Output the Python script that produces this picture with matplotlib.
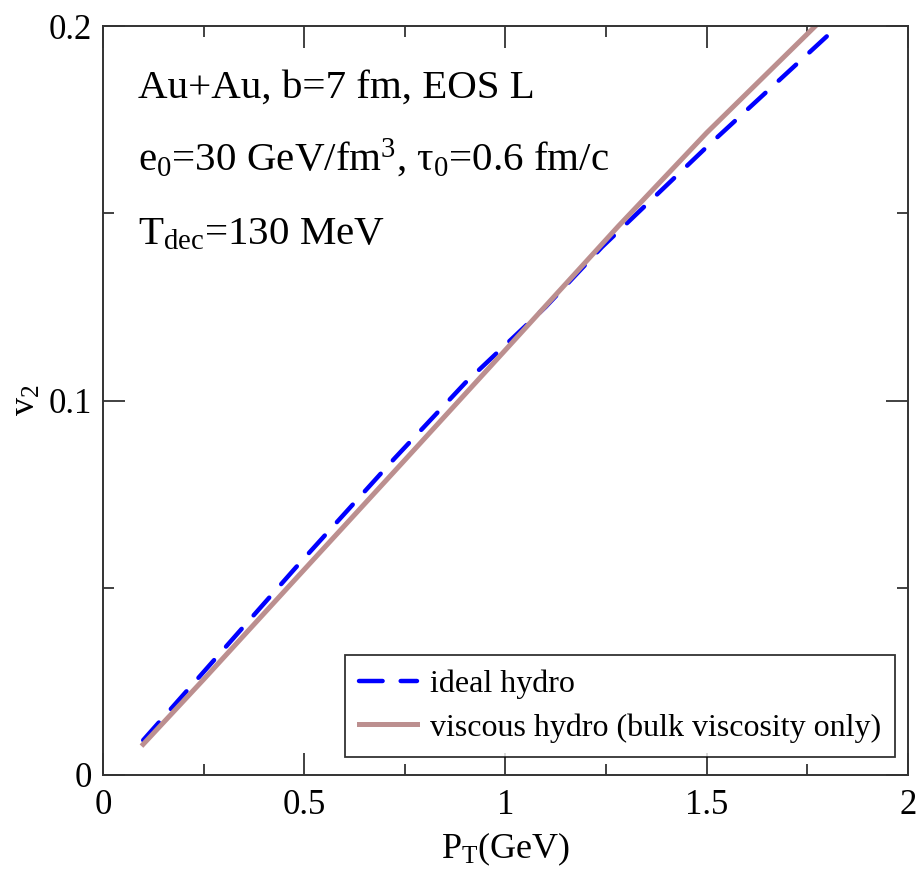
import matplotlib
matplotlib.use('Agg')
import matplotlib.pyplot as plt
from matplotlib.ticker import MultipleLocator

plt.rcParams['font.family'] = ['Liberation Serif', 'DejaVu Serif']
plt.rcParams['mathtext.fontset'] = 'custom'
plt.rcParams['mathtext.rm'] = 'Liberation Serif'
plt.rcParams['mathtext.it'] = 'Liberation Serif'
plt.rcParams['lines.scale_dashes'] = False

# v2(pT)
pt_ideal = [0.10, 0.25, 0.48, 0.725, 0.90, 1.10, 1.24, 1.50, 1.81]
v2_ideal = [0.0093, 0.0275, 0.0555, 0.0846, 0.1047, 0.1250, 0.1410, 0.1677, 0.1984]

pt_visc = [0.10, 0.25, 0.48, 0.75, 1.00, 1.28, 1.50, 1.77]
v2_visc = [0.0082, 0.0255, 0.0525, 0.0841, 0.1135, 0.1465, 0.1715, 0.2000]

labels = ['ideal hydro', 'viscous hydro (bulk viscosity only)']
info = ['Au+Au, b=7 fm, EOS L',
        r'e$_0$=30 GeV/fm$^3$, $\tau_0$=0.6 fm/c',
        r'T$_{\rm dec}$=130 MeV']
xticks = [0, 0.5, 1, 1.5, 2]
xticklabels = ['0', '0.5', '1', '1.5', '2']
yticks = [0, 0.1, 0.2]
yticklabels = ['0', '0.1', '0.2']

fig = plt.figure(figsize=(9.19, 8.85), dpi=100)
ax = fig.add_axes([0.112, 0.1243, 0.876, 0.8463])

ax.plot(pt_ideal, v2_ideal, color='#0000ff', lw=3.2, dashes=(17, 13),
        dash_capstyle='round', label=labels[0])
ax.plot(pt_visc, v2_visc, color='#bc8f8f', lw=3.6, label=labels[1])

ax.set_xlim(0, 2)
ax.set_ylim(0, 0.2)
ax.set_xticks(xticks)
ax.set_xticklabels(xticklabels)
ax.set_yticks(yticks)
ax.set_yticklabels(yticklabels)
ax.xaxis.set_minor_locator(MultipleLocator(0.25))
ax.yaxis.set_minor_locator(MultipleLocator(0.05))
ax.tick_params(which='both', direction='in', top=True, right=True,
               width=1.3, color='#333333', labelsize=25)
ax.tick_params(which='major', length=16)
ax.tick_params(which='minor', length=8)
ax.tick_params(axis='x', pad=10)
ax.tick_params(axis='y', pad=8)
for s in ax.spines.values():
    s.set_linewidth(1.4)
    s.set_color('#333333')

ax.set_xlabel(r'P$_{\rm T}$(GeV)', fontsize=26, labelpad=6)
ax.set_ylabel(r'v$_2$', fontsize=26, labelpad=4)

for i, line in enumerate(info):
    ax.text(0.0435, [0.905, 0.808, 0.708][i], line, transform=ax.transAxes,
            fontsize=29.5, va='baseline', ha='left')

leg = ax.legend(loc='lower right', bbox_to_anchor=(0.984, 0.024),
                borderaxespad=0, fontsize=23, fancybox=False,
                handlelength=1.8, handletextpad=0.4, borderpad=0.45,
                labelspacing=0.45)
leg.get_frame().set_edgecolor('black')
leg.get_frame().set_linewidth(1.3)

fig.savefig('out.png', dpi=100)
